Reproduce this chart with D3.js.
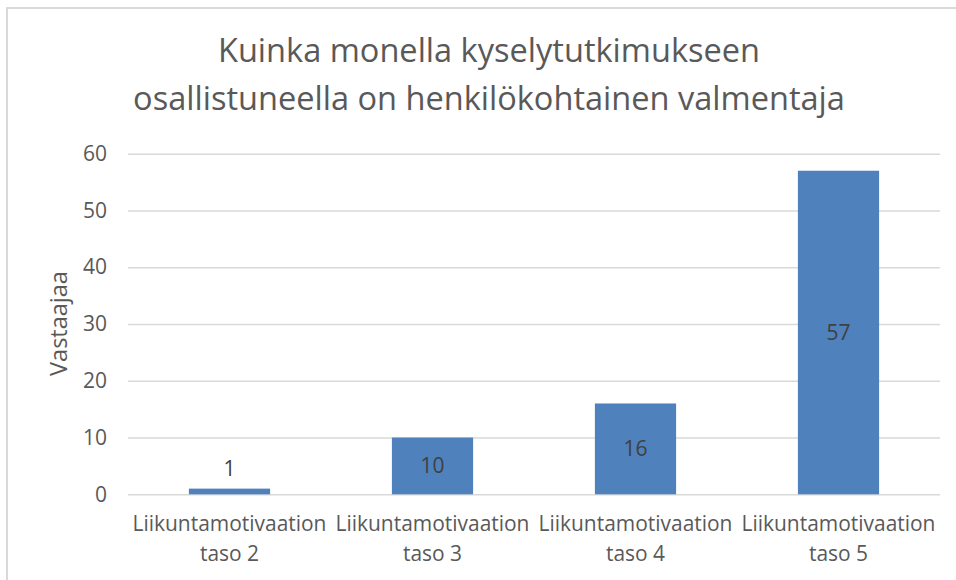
<!DOCTYPE html>
<html>
<head>
<meta charset="utf-8">
<script src="https://cdn.jsdelivr.net/npm/d3@7"></script>
<style>
  body { margin: 0; background: #fff; }
  svg { display: block; font-family: "Open Sans", sans-serif; }
</style>
</head>
<body>
<svg id="chart" width="956" height="580"></svg>
<script>
// Chart data
const titleLines = ['Kuinka monella kyselytutkimukseen', 'osallistuneella on henkilökohtainen valmentaja'];
const categories = ['Liikuntamotivaation taso 2', 'Liikuntamotivaation taso 3', 'Liikuntamotivaation taso 4', 'Liikuntamotivaation taso 5'];
const values = [1, 10, 16, 57];
const yTicks = [0, 10, 20, 30, 40, 50, 60];
const yLabel = 'Vastaajaa';

const svg = d3.select('#chart');
const W = 956, H = 580;
const plot = {left: 128, right: 940, top: 153.7, bottom: 494.3};

// scale a text's font size so the given node is `target` px wide
function fitSize(node, base, target) {
  node.setAttribute('font-size', base);
  const w = node.getComputedTextLength();
  return base * target / w;
}

// chart frame (only left/top edges visible in the crop)
svg.append('rect')
  .attr('x', 7).attr('y', 8)
  .attr('width', W + 20).attr('height', H + 20)
  .attr('fill', '#fff')
  .attr('stroke', '#d9d9d9')
  .attr('stroke-width', 2);

// title
const title = svg.append('g')
  .selectAll('text')
  .data(titleLines)
  .join('text')
  .attr('x', 489)
  .attr('y', (d, i) => 62 + i * 48)
  .attr('text-anchor', 'middle')
  .attr('fill', '#595959')
  .text(d => d);
const titleSize = fitSize(title.nodes()[1], 28, 712);
title.attr('font-size', titleSize);

const x = d3.scaleBand()
  .domain(categories)
  .range([plot.left, plot.right])
  .paddingInner(0.6)
  .paddingOuter(0.3);

const y = d3.scaleLinear()
  .domain([0, 60])
  .range([plot.bottom, plot.top]);

// gridlines + y tick labels
const yAxis = d3.axisLeft(y)
  .tickValues(yTicks)
  .tickSize(-(plot.right - plot.left))
  .tickPadding(21);

svg.append('g')
  .attr('transform', `translate(${plot.left},0)`)
  .call(yAxis)
  .call(g => g.select('.domain').remove())
  .call(g => g.selectAll('.tick line').attr('stroke', '#d9d9d9').attr('stroke-width', 1.5))
  .call(g => g.selectAll('.tick text')
    .attr('fill', '#595959')
    .attr('font-size', 21)
    .attr('font-family', '"Open Sans", sans-serif'));

// bars
svg.append('g')
  .selectAll('rect')
  .data(values)
  .join('rect')
  .attr('x', (d, i) => x(categories[i]))
  .attr('y', d => y(d))
  .attr('width', x.bandwidth())
  .attr('height', d => y(0) - y(d))
  .attr('fill', '#4f81bd');

// data labels: centered in bar, above it if the bar is too short
svg.append('g')
  .selectAll('text')
  .data(values)
  .join('text')
  .attr('x', (d, i) => x(categories[i]) + x.bandwidth() / 2)
  .attr('y', d => {
    const h = y(0) - y(d);
    return h < 24 ? y(d) - 20 : y(d) + h / 2;
  })
  .attr('dy', '0.35em')
  .attr('text-anchor', 'middle')
  .attr('font-size', 21)
  .attr('fill', '#404040')
  .text(d => d);

// x category labels (two lines)
const xl = svg.append('g')
  .selectAll('text')
  .data(categories)
  .join('text')
  .attr('text-anchor', 'middle')
  .attr('fill', '#595959');

xl.each(function(d) {
  const cx = x(d) + x.bandwidth() / 2;
  const words = d.split(' ');
  const lines = [words[0], words.slice(1).join(' ')];
  d3.select(this).selectAll('tspan')
    .data(lines)
    .join('tspan')
    .attr('x', cx)
    .attr('y', (t, i) => 531 + i * 30)
    .text(t => t);
});
const probe = svg.append('text').text(categories[0].split(' ')[0]);
const xlSize = fitSize(probe.node(), 19, 194);
probe.remove();
xl.attr('font-size', xlSize);

// y axis title
const yt = svg.append('text')
  .attr('transform', 'translate(67,323.5) rotate(-90)')
  .attr('text-anchor', 'middle')
  .attr('fill', '#595959')
  .text(yLabel);
yt.attr('font-size', fitSize(yt.node(), 19, 105));
</script>
</body>
</html>
